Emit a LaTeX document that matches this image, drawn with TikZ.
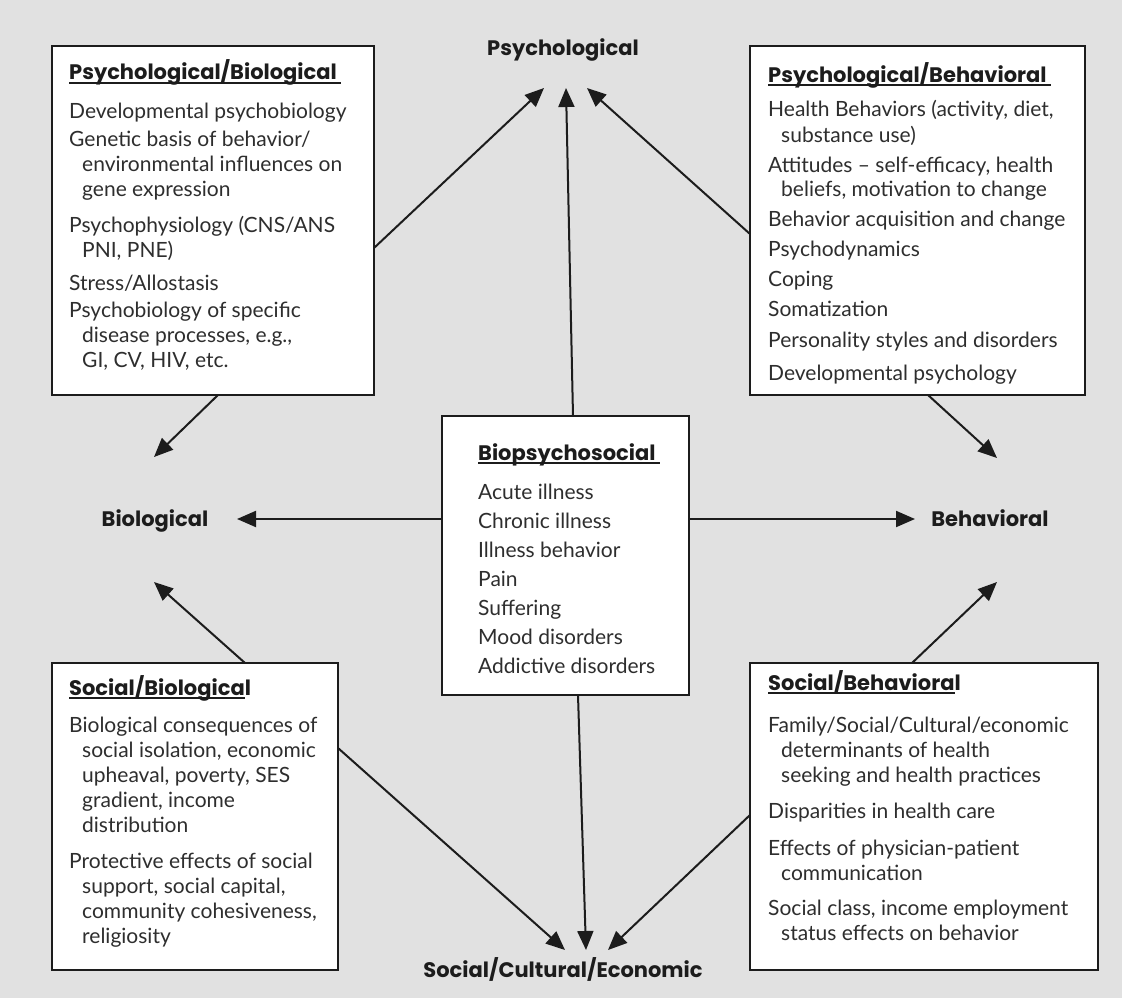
\documentclass[tikz,border=0pt]{standalone}
\usepackage{fontspec}
\setmainfont{Lato}
\newfontfamily\headfont{Poppins}
\usetikzlibrary{arrows.meta}
\definecolor{bg}{HTML}{E1E1E1}
\definecolor{ink}{HTML}{1C1C1C}
\definecolor{txt}{HTML}{2E2E2E}
\newcommand\ulhead[2]{{\headfont\bfseries\fontsize{21}{25}\selectfont\color{ink}\setbox0\hbox{#1}\rlap{\rule[-3.8pt]{\wd0}{2.2pt}}\box0 #2}}
\newcommand\tline[1]{\hbox{#1}}
\newcommand\cl[1]{\hbox{\hskip13pt #1}}
\newcommand\gap[1]{\vskip#1pt}
\newcommand\blockstart{\baselineskip=25pt\lineskiplimit=-20pt\lineskip=0pt}
\tikzset{
  box/.style={draw=ink, line width=2.4pt, fill=white},
  body/.style={anchor=base west, inner sep=0pt, text=txt, font=\fontsize{21}{25}\selectfont},
  lab/.style={anchor=base, inner sep=0pt, text=ink, font=\headfont\bfseries\fontsize{21}{25}\selectfont},
  arr/.style={draw=ink, line width=2pt, -{Triangle[length=19pt,width=16pt]}, shorten >=0pt}
}
\begin{document}
\begin{tikzpicture}[x=1pt,y=-1pt]
\fill[bg] (0,0) rectangle (1122,998);
\useasboundingbox (0,0) rectangle (1122,998);

% boxes
\draw[box] (52,46) rectangle (374,395) coordinate (tlc);
\node[inner sep=0pt, fit/.style={}] (tl) at (213,220.5) {};
\draw[box] (750,46) rectangle (1085,395);
\node[inner sep=0pt] (tr) at (917.5,220.5) {};
\draw[box] (442,416) rectangle (689,695);
\node[inner sep=0pt] (cb) at (565.5,555.5) {};
\draw[box] (52,663) rectangle (338,970);
\node[inner sep=0pt] (bl) at (195,816.5) {};
\draw[box] (750,663) rectangle (1098,970);
\node[inner sep=0pt] (br) at (924,816.5) {};

% texts
\node[body] (tltext) at (69,80) {\vtop{\blockstart
 \tline{\ulhead{Psychological/Biological\ }{}}\gap{14}
 \tline{Developmental psychobiology}\gap{3}
 \tline{Genetic basis of behavior/}
 \cl{environmental influences on}
 \cl{gene expression}\gap{11}
 \tline{Psychophysiology (CNS/ANS}
 \cl{PNI, PNE)}\gap{8}
 \tline{Stress/Allostasis}\gap{2}
 \tline{Psychobiology of specific}
 \cl{disease processes, e.g.,}
 \cl{GI, CV, HIV, etc.}}};

\node[body] (trtext) at (768,82) {\vtop{\blockstart
 \tline{\ulhead{Psychological/Behavioral\ }{}}\gap{10}
 \tline{Health Behaviors (activity, diet,}
 \cl{substance use)}\gap{5}
 \tline{Attitudes -- self-efficacy, health}
 \cl{beliefs, motivation to change}\gap{5}
 \tline{Behavior acquisition and change}\gap{4}
 \tline{Psychodynamics}\gap{6}
 \tline{Coping}\gap{5}
 \tline{Somatization}\gap{6}
 \tline{Personality styles and disorders}\gap{7}
 \tline{Developmental psychology}}};

\node[body] (ctext) at (478,460) {\vtop{\blockstart
 \tline{\ulhead{Biopsychosocial\ }{}}\gap{14}
 \tline{Acute illness}\gap{4}
 \tline{Chronic illness}\gap{4}
 \tline{Illness behavior}\gap{4}
 \tline{Pain}\gap{4}
 \tline{Suffering}\gap{4}
 \tline{Mood disorders}\gap{4}
 \tline{Addictive disorders}}};

\node[body] (bltext) at (69,695) {\vtop{\blockstart
 \tline{\ulhead{Social/Biologica}{l}}\gap{12}
 \tline{Biological consequences of}
 \cl{social isolation, economic}
 \cl{upheaval, poverty, SES}
 \cl{gradient, income}
 \cl{distribution}\gap{11}
 \tline{Protective effects of social}
 \cl{support, social capital,}
 \cl{community cohesiveness,}
 \cl{religiosity}}};

\node[body] (brtext) at (768,690) {\vtop{\blockstart
 \tline{\ulhead{Social/Behaviora}{l}}\gap{17}
 \tline{Family/Social/Cultural/economic}
 \cl{determinants of health}
 \cl{seeking and health practices}\gap{11}
 \tline{Disparities in health care}\gap{12}
 \tline{Effects of physician-patient}
 \cl{communication}\gap{10}
 \tline{Social class, income employment}
 \cl{status effects on behavior}}};

% labels
\node[lab] (psy) at (563,56) {Psychological};
\node[lab] (bio) at (155,526) {Biological};
\node[lab] (beh) at (990,526) {Behavioral};
\node[lab] (soc) at (563,977) {Social/Cultural/Economic};

% arrow tips and starts
\coordinate (s1) at (374,248);  \coordinate (t1) at (544,88);
\coordinate (s2) at (573,416);  \coordinate (t2) at (566,88);
\coordinate (s3) at (750,234);  \coordinate (t3) at (587,88);
\coordinate (s4) at (218,395);  \coordinate (t4) at (154,457);
\coordinate (s5) at (928,395);  \coordinate (t5) at (997,458);
\coordinate (s6) at (442,519);  \coordinate (t6) at (237,519);
\coordinate (s7) at (689,519);  \coordinate (t7) at (915,519);
\coordinate (s8) at (245,663);  \coordinate (t8) at (154,582);
\coordinate (s9) at (912,663);  \coordinate (t9) at (997,582);
\coordinate (s10) at (338,748); \coordinate (t10) at (565,950);
\coordinate (s11) at (578,695); \coordinate (t11) at (586,950);
\coordinate (s12) at (750,815); \coordinate (t12) at (608,950);

\foreach \i in {1,...,12} \draw[arr] (s\i) -- (t\i);
\end{tikzpicture}
\end{document}
